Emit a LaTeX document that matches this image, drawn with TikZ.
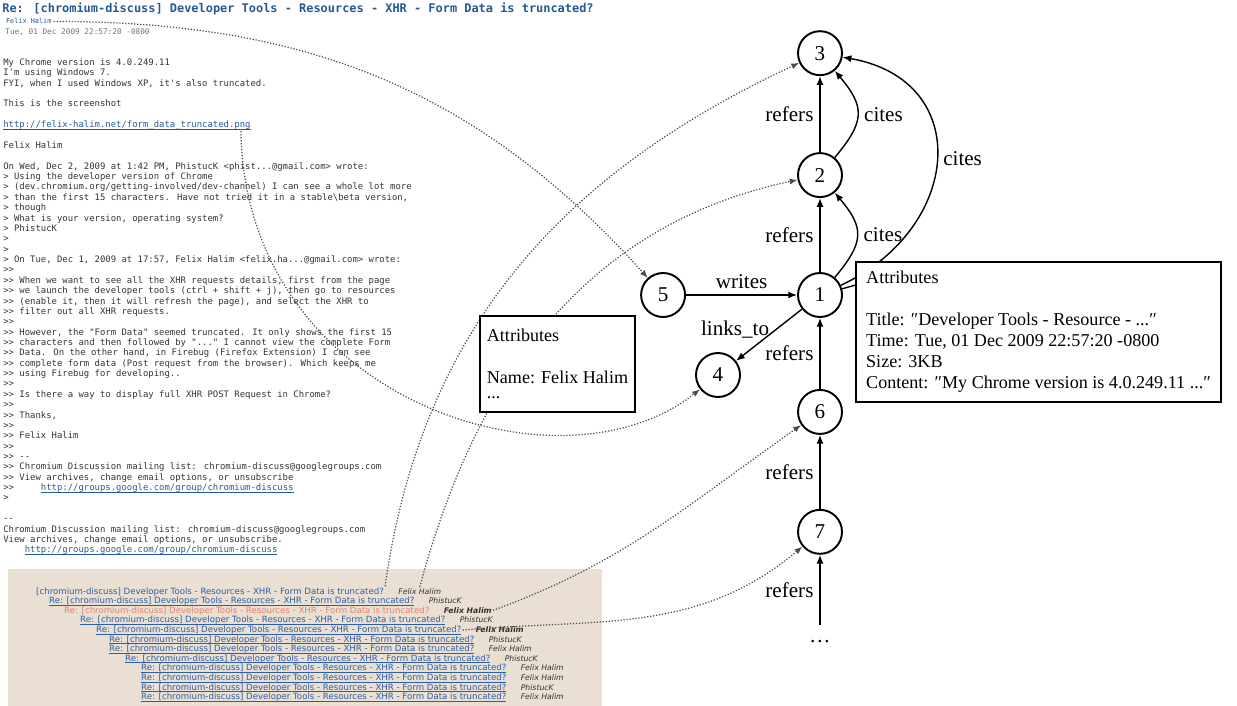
\documentclass[tikz,border=0pt]{standalone}
\usepackage{fontspec}
\setmainfont{Liberation Serif}
\newfontfamily\mailmono{DejaVu Sans Mono}
\newfontfamily\threadfont{DejaVu Sans}
\usetikzlibrary{arrows.meta, positioning, calc}

\definecolor{mailblue}{RGB}{38,88,150}
\definecolor{threadblue}{RGB}{45,95,165}
\definecolor{threadbg}{RGB}{233,223,211}
\definecolor{curred}{RGB}{222,132,112}

% underlined link text, rule close under the letters
\newcommand{\ulink}[1]{\vtop{\hbox{#1}\kern-0.3pt\hrule height 0.3pt}}

\tikzset{
  vertex/.style={
    circle, draw=black, line width=1.1pt,
    minimum size=0.88cm, inner sep=0pt,
    font=\fontsize{12}{14}\selectfont
  },
  attrbox/.style={
    rectangle, draw=black, line width=1.1pt, fill=white,
    align=left, inner sep=0pt,
    font=\fontsize{10.3}{11.9}\selectfont
  },
  mailtext/.style={
    anchor=north west, inner sep=0pt, align=left, text=black!80,
    font=\mailmono\fontsize{5.08}{5.9}\selectfont
  },
  thread/.style={
    anchor=base west, inner sep=0.5pt,
    font=\threadfont\fontsize{4.9}{5.5}\selectfont
  },
  author/.style={anchor=base west, inner sep=0.5pt, text=black!80},
  arrow/.style={-{Latex[length=5pt,width=4pt]}, line width=0.8pt,
    font=\fontsize{12}{14}\selectfont},
  link/.style={-{Latex[length=4.5pt,width=3.5pt]}, densely dotted,
    line width=0.7pt, draw=black!70},
}

\begin{document}
\begin{tikzpicture}[x=0.02cm, y=0.02cm]
\useasboundingbox (0,0) rectangle (1237,-706);

% --- Thread list background ---
\fill[threadbg] (8,-569) rectangle (602,-706);

% --- Mail header ---
\node[anchor=base west, inner sep=0pt, text=mailblue,
  font=\mailmono\bfseries\fontsize{6.79}{8}\selectfont] (subject) at (2,-13)
  {Re: [chromium-discuss] Developer Tools - Resources - XHR - Form Data is truncated?};
\node[anchor=base west, inner sep=1pt, text=mailblue,
  font=\mailmono\fontsize{3.9}{5}\selectfont] (sender) at (4,-24) {Felix Halim};
\node[anchor=base west, inner sep=0pt, text=black!55,
  font=\mailmono\fontsize{4.4}{5}\selectfont] (sent) at (5,-35)
  {Tue, 01 Dec 2009 22:57:20 -0800};

% --- Mail body ---
\node[mailtext] (body) at (3,-57.7)
  {\strut My Chrome version is 4.0.249.11\\
   I'm using Windows 7.\\
   FYI, when I used Windows XP, it's also truncated.\\
   ~\\
   This is the screenshot};
\node[mailtext, text=mailblue] (shot) at (3,-120.1)
  {\strut\ulink{http://felix-halim.net/form\_data\_truncated.png}};
\node[mailtext] (quote) at (3,-140.9)
  {\strut Felix Halim\\
   ~\\
   On Wed, Dec 2, 2009 at 1:42 PM, PhistucK <phist...@gmail.com> wrote:\\
   > Using the developer version of Chrome\\
   > (dev.chromium.org/getting-involved/dev-channel) I can see a whole lot more\\
   > than the first 15 characters. Have not tried it in a stable\textbackslash beta version,\\
   > though\\
   > What is your version, operating system?\\
   > PhistucK\\
   >\\
   >\\
   > On Tue, Dec 1, 2009 at 17:57, Felix Halim <felix.ha...@gmail.com> wrote:\\
   >>\\
   >> When we want to see all the XHR requests details, first from the page\\
   >> we launch the developer tools (ctrl + shift + j), then go to resources\\
   >> (enable it, then it will refresh the page), and select the XHR to\\
   >> filter out all XHR requests.\\
   >>\\
   >> However, the "Form Data" seemed truncated. It only shows the first 15\\
   >> characters and then followed by "..." I cannot view the complete Form\\
   >> Data. On the other hand, in Firebug (Firefox Extension) I can see\\
   >> complete form data (Post request from the browser). Which keeps me\\
   >> using Firebug for developing..\\
   >>\\
   >> Is there a way to display full XHR POST Request in Chrome?\\
   >>\\
   >> Thanks,\\
   >>\\
   >> Felix Halim\\
   >>\\
   >> -{}-\\
   >> Chromium Discussion mailing list: chromium-discuss@googlegroups.com\\
   >> View archives, change email options, or unsubscribe\\
   >>~~~~~\textcolor{mailblue}{\ulink{http://groups.google.com/group/chromium-discuss}}\\
   >\\
   ~\\
   -{}-\\
   Chromium Discussion mailing list: chromium-discuss@googlegroups.com\\
   View archives, change email options, or unsubscribe.\\
   ~~~~\textcolor{mailblue}{\ulink{http://groups.google.com/group/chromium-discuss}}};

% --- Thread list ---
\foreach \i/\ind/\who/\tcol/\aw/\fmt in {
  0/35/{Felix Halim}/threadblue/\mdseries/\relax,
  1/48/PhistucK/threadblue/\mdseries/\ulink,
  2/63/{Felix Halim}/curred/\bfseries/\relax,
  3/79/PhistucK/threadblue/\mdseries/\ulink,
  4/95/{Felix Halim}/threadblue/\bfseries/\ulink,
  5/108/PhistucK/threadblue/\mdseries/\ulink,
  6/108/{Felix Halim}/threadblue/\mdseries/\ulink,
  7/124/PhistucK/threadblue/\mdseries/\ulink,
  8/140/{Felix Halim}/threadblue/\mdseries/\ulink,
  9/140/{Felix Halim}/threadblue/\mdseries/\ulink,
  10/140/PhistucK/threadblue/\mdseries/\ulink,
  11/140/{Felix Halim}/threadblue/\mdseries/\ulink}
{
  \pgfmathsetmacro\yy{-594-9.6*\i}
  \node[thread, text=\tcol] (t\i) at (\ind,\yy)
    {\fmt{\ifnum\i=0 \else Re: \fi[chromium-discuss] Developer Tools - Resources - XHR - Form Data is truncated?}};
  \node[author, font=\threadfont\itshape\aw\fontsize{4.4}{5}\selectfont] (a\i)
    at ([xshift=0.24cm]t\i.base east) {\who};
}

% --- Message graph ---
\node[vertex] (n1) at (820,-295) {1};
\node[vertex, above=1.48cm of n1] (n2) {2};
\node[vertex, above=1.52cm of n2] (n3) {3};
\node[vertex, below=1.42cm of n1] (n6) {6};
\node[vertex, below=1.48cm of n6] (n7) {7};
\node[vertex, left=2.22cm of n1] (n5) {5};
\node[vertex] (n4) at (718,-375) {4};
\node[anchor=north, inner sep=0pt, font=\fontsize{12}{14}\selectfont] (more) at (820,-625) {\strut\dots};

% --- Graph edges ---
\draw[arrow] (n2) -- node[left]{refers} (n3);
\draw[arrow] (n1) -- node[left]{refers} (n2);
\draw[arrow] (n6) -- node[left]{refers} (n1);
\draw[arrow] (n7) -- node[left]{refers} (n6);
\draw[arrow] (more) -- node[left]{refers} (n7);
\draw[arrow] (n2) to[out=50, in=-50, looseness=1.4] node[right]{cites} (n3);
\draw[arrow] (n1) to[out=50, in=-50, looseness=1.4] node[right]{cites} (n2);
\draw[arrow] (n1) to[out=25, in=-10, looseness=1.5] node[right]{cites} (n3);
\draw[arrow] (n5) -- node[above]{writes} (n1);
\draw[arrow] (n1) -- node[left, pos=0.4]{links\_to} (n4);

% --- Links from the mail page ---
\draw[link] (sender.east) to[out=0, in=132] (n5);
\draw[link] ([xshift=-0.2cm]shot.south east) .. controls (245,-400) and (560,-500) .. (n4);
\draw[link] (t0.north east) to[out=82, in=205] (n3);
\draw[link] (a0.north) to[out=75, in=192] (n2);
\draw[link] (a2.east) to[out=20, in=215] (n6);
\draw[link] (t4.east) to[out=5, in=220] (n7);

% --- Attributes ---
\node[attrbox, minimum width=7.3cm, minimum height=2.8cm] (msgattr) at (1038.5,-332)
  {Attributes\\[12pt]
   Title: ″Developer Tools - Resource - ...″\\
   Time: Tue, 01 Dec 2009 22:57:20 -0800\\
   Size: 3KB\\
   Content: ″My Chrome version is 4.0.249.11 ...″};
\node[attrbox, minimum width=3.1cm, minimum height=1.92cm] (userattr) at (557.5,-364)
  {Attributes\\[12pt]
   Name: Felix Halim\\[-3pt]
   ...};
\draw[line width=0.8pt] (n1) -- ($(msgattr.north west)!0.17!(msgattr.south west)$);

\end{tikzpicture}
\end{document}
